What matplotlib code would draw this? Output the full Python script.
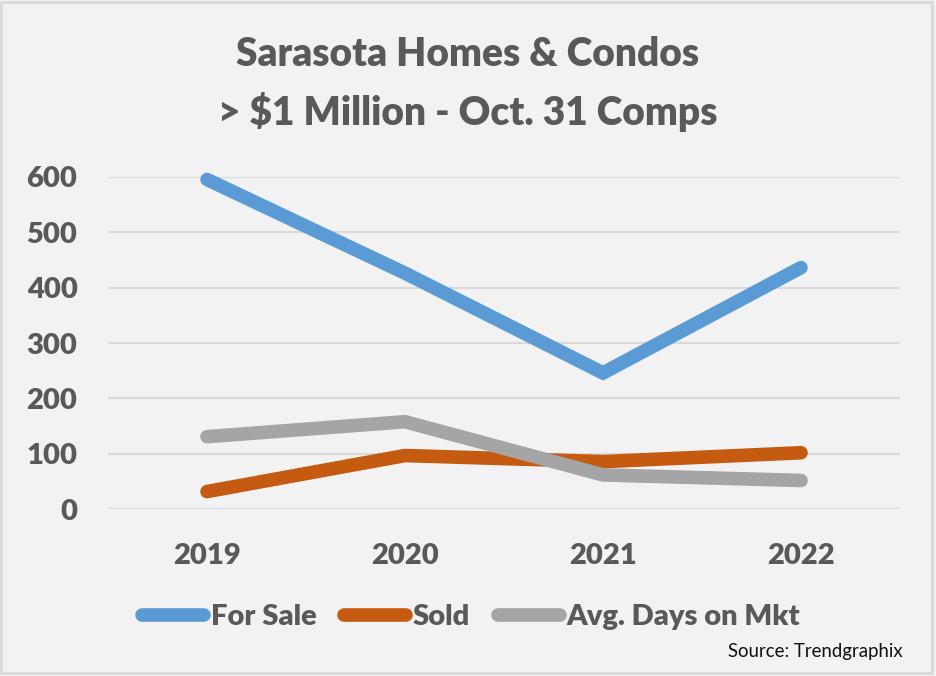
import matplotlib.pyplot as plt
from matplotlib.patches import Rectangle

years = ['2019', '2020', '2021', '2022']
for_sale = [595, 426, 246, 436]
sold = [32, 97, 86, 102]
avg_days = [131, 158, 62, 52]

series_names = ['For Sale', 'Sold', 'Avg. Days on Mkt']
series_colors = ['#5B9BD5', '#C55A11', '#A5A5A5']

plt.rcParams['font.family'] = ['Lato', 'DejaVu Sans']

text_gray = '#595959'
bg = '#F2F2F2'

fig = plt.figure(figsize=(9.36, 6.76), dpi=100, facecolor=bg)
ax = fig.add_axes([108 / 936, 1 - 509.3 / 676, 792 / 936, 332.6 / 676])
ax.set_facecolor(bg)

x = range(len(years))
for vals, name, col in zip([for_sale, sold, avg_days], series_names, series_colors):
    ax.plot(x, vals, color=col, lw=9.8, label=name, solid_capstyle='round',
            solid_joinstyle='miter', clip_on=False)

ax.set_xlim(-0.5, len(years) - 0.5)
ax.set_ylim(0, 600)
ax.set_yticks(range(0, 601, 100))
ax.set_xticks(list(x))
ax.set_xticklabels(years)
ax.yaxis.grid(True, color='#D9D9D9', lw=1.5)
ax.set_axisbelow(True)
for s in ax.spines.values():
    s.set_visible(False)
ax.tick_params(axis='both', length=0, labelsize=21, labelcolor=text_gray)
ax.tick_params(axis='y', pad=22)
ax.tick_params(axis='x', pad=24)
for lab in ax.get_xticklabels() + ax.get_yticklabels():
    lab.set_fontweight('heavy')

fig.text(0.5, 1 - 84 / 676, 'Sarasota Homes & Condos\n> $1 Million - Oct. 31 Comps',
         ha='center', va='center', fontsize=28, fontweight='heavy',
         color=text_gray, linespacing=1.55)

leg = fig.legend(loc='center', bbox_to_anchor=(471 / 936, 1 - 617 / 676), ncol=3,
                 frameon=False, fontsize=21, handlelength=2.12, handletextpad=0.24,
                 columnspacing=0.95, borderpad=0)
for t in leg.get_texts():
    t.set_color(text_gray)
    t.set_fontweight('heavy')

fig.text(903 / 936, 1 - 652 / 676, 'Source: Trendgraphix', ha='right', va='center',
         fontsize=13.4, color='#111111')

fig.patches.append(Rectangle((1 / 936, 1 - 673 / 676), 931 / 936, 671 / 676,
                             transform=fig.transFigure, fill=False,
                             edgecolor='#D9D9D9', lw=2))

fig.savefig('out.png', dpi=100, facecolor=bg)
